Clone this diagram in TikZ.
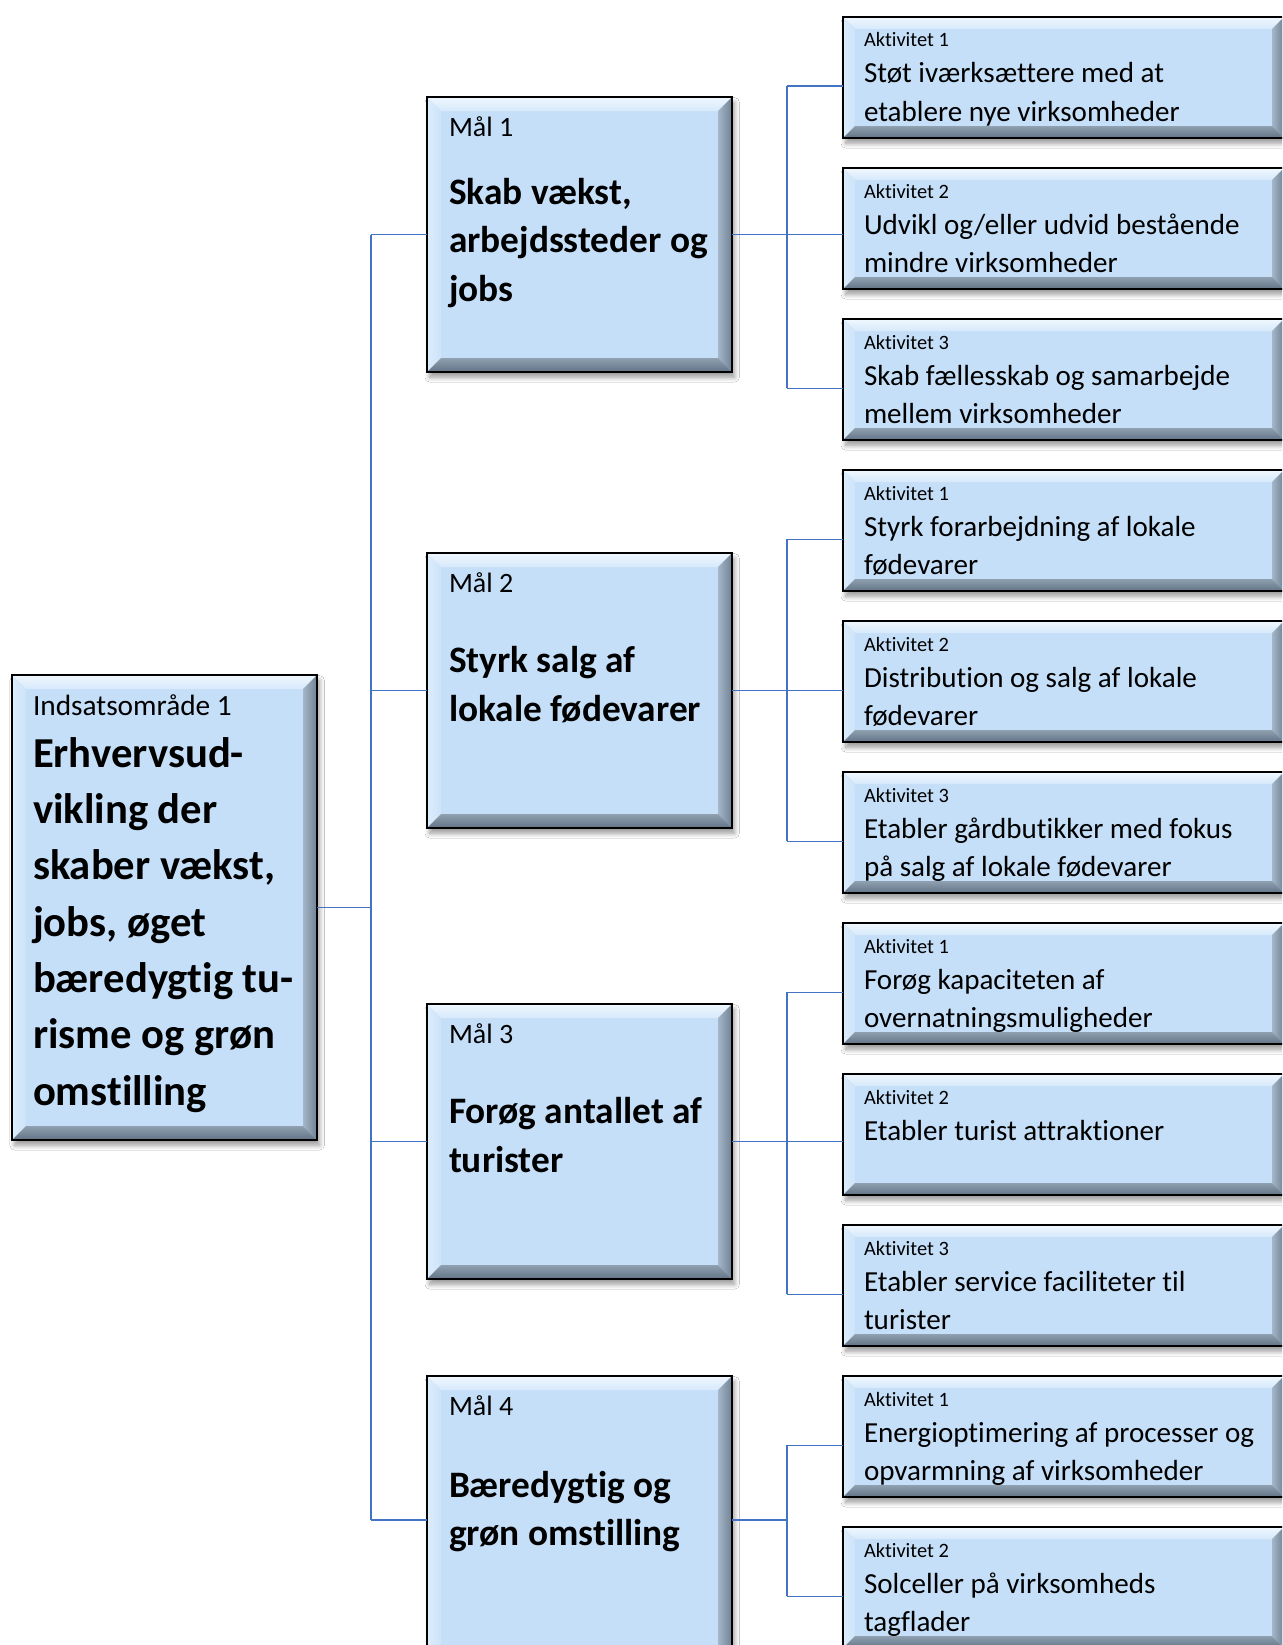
\documentclass[tikz,border=0pt]{standalone}
\usepackage{fontspec}
\setmainfont{Carlito}[Ligatures=NoCommon]
\usetikzlibrary{fit,shadows.blur}
\definecolor{boxfill}{HTML}{C5DFF8}
\definecolor{connblue}{HTML}{4472C4}
\definecolor{bvTa}{HTML}{F0F7FE}
\definecolor{bvTb}{HTML}{D6E9FB}
\definecolor{bvLa}{HTML}{DDEDFB}
\definecolor{bvLb}{HTML}{CCE3F9}
\definecolor{bvRa}{HTML}{A4B6C7}
\definecolor{bvRb}{HTML}{6F8295}
\definecolor{bvBa}{HTML}{8FA0B0}
\definecolor{bvBb}{HTML}{617386}
\newcommand\bevelpic[1]{%
  \coordinate (bNW) at (path picture bounding box.north west);
  \coordinate (bNE) at (path picture bounding box.north east);
  \coordinate (bSW) at (path picture bounding box.south west);
  \coordinate (bSE) at (path picture bounding box.south east);
  \coordinate (iNW) at ([shift={(#1,-#1)}]bNW);
  \coordinate (iNE) at ([shift={(-#1,-#1)}]bNE);
  \coordinate (iSW) at ([shift={(#1,#1)}]bSW);
  \coordinate (iSE) at ([shift={(-#1,#1)}]bSE);
  \shade[top color=bvTa, bottom color=bvTb] (bNW) -- (bNE) -- (iNE) -- (iNW) -- cycle;
  \shade[left color=bvLa, right color=bvLb] (bNW) -- (iNW) -- (iSW) -- (bSW) -- cycle;
  \shade[left color=bvRa, right color=bvRb] (iNE) -- (bNE) -- (bSE) -- (iSE) -- cycle;
  \shade[top color=bvBa, bottom color=bvBb] (iSW) -- (iSE) -- (bSE) -- (bSW) -- cycle;
}
\tikzset{
  conn/.style={draw=connblue, line width=0.8pt},
  bx/.style={draw=black, line width=1.3pt, fill=boxfill, inner sep=0pt, outer sep=0pt,
    blur shadow={shadow xshift=2pt, shadow yshift=-4pt, shadow blur radius=3.5pt,
      shadow blur steps=8, shadow opacity=40},
    path picture={\bevelpic{#1}}},
  bx/.default=10.5pt,
  lab/.style={anchor=base west, inner sep=0pt, outer sep=0pt},
  smalllab/.style={lab, font=\fontsize{15.3}{18}\selectfont},
  acttxt/.style={lab, font=\fontsize{21.8}{26}\selectfont},
  mallab/.style={lab, font=\fontsize{21}{25}\selectfont},
  malbold/.style={lab, font=\fontsize{28}{34}\selectfont\bfseries},
  leftlab/.style={lab, font=\fontsize{22}{26}\selectfont},
  leftbold/.style={lab, font=\fontsize{32}{38}\selectfont\bfseries},
}
% #1 name, #2 top y (px), #3 label, #4 line 1, #5 line 2
\newcommand\actbox[5]{%
  \node[bx=9pt, fit={(843,#2) (1284,#2+121)}] (#1) {};
  \node[smalllab] (#1l) at (864,#2+30) {#3};
  \node[acttxt] (#1a) at (864,#2+66) {#4};
  \node[acttxt] (#1b) at (864,#2+104) {#5};
  \coordinate (#1c) at ([yshift=-6.4pt]#1.west);
}
\begin{document}
\begin{tikzpicture}[x=0.75pt,y=-0.75pt]
\useasboundingbox (0,0) rectangle (1282,1645);
\clip (0,0) rectangle (1282,1645);
\fill[white] (0,0) rectangle (1282,1645);

% left box
\node[bx, fit={(12,675) (317,1140)}] (L) {};
\node[leftlab] (Lt0) at (33,715) {Indsatsområde 1};
\node[leftbold] (Lt1) at (33,767) {Erhvervsud-};
\node[leftbold] (Lt2) at (33,823) {vikling der};
\node[leftbold] (Lt3) at (33,879) {skaber vækst,};
\node[leftbold] (Lt4) at (33,936) {jobs, øget};
\node[leftbold] (Lt5) at (33,992) {bæredygtig tu-};
\node[leftbold] (Lt6) at (33,1048) {risme og grøn};
\node[leftbold] (Lt7) at (33,1105) {omstilling};

% goal boxes
\node[bx, fit={(427,97) (732,372)}] (m1) {};
\node[mallab] (m1l) at (449,137) {Mål 1};
\node[malbold] (m1a) at (449,204) {Skab vækst,};
\node[malbold] (m1b) at (449,252) {arbejdssteder og};
\node[malbold] (m1c) at (449,301) {jobs};

\node[bx, fit={(427,553) (732,828)}] (m2) {};
\node[mallab] (m2l) at (449,592) {Mål 2};
\node[malbold] (m2a) at (449,672) {Styrk salg af};
\node[malbold] (m2b) at (449,721) {lokale fødevarer};

\node[bx, fit={(427,1004) (732,1279)}] (m3) {};
\node[mallab] (m3l) at (449,1043) {Mål 3};
\node[malbold] (m3a) at (449,1123) {Forøg antallet af};
\node[malbold] (m3b) at (449,1172) {turister};

\node[bx, fit={(427,1376) (732,1664)}] (m4) {};
\node[mallab] (m4l) at (449,1415) {Mål 4};
\node[malbold] (m4a) at (449,1497) {Bæredygtig og};
\node[malbold] (m4b) at (449,1545) {grøn omstilling};

% activity boxes
\actbox{a11}{17}{Aktivitet 1}{Støt iværksættere med at}{etablere nye virksomheder}
\actbox{a12}{168}{Aktivitet 2}{Udvikl og/eller udvid bestående}{mindre virksomheder}
\actbox{a13}{319}{Aktivitet 3}{Skab fællesskab og samarbejde}{mellem virksomheder}
\actbox{a21}{470}{Aktivitet 1}{Styrk forarbejdning af lokale}{fødevarer}
\actbox{a22}{621}{Aktivitet 2}{Distribution og salg af lokale}{fødevarer}
\actbox{a23}{772}{Aktivitet 3}{Etabler gårdbutikker med fokus}{på salg af lokale fødevarer}
\actbox{a31}{923}{Aktivitet 1}{Forøg kapaciteten af}{overnatningsmuligheder}
\actbox{a32}{1074}{Aktivitet 2}{Etabler turist attraktioner}{}
\actbox{a33}{1225}{Aktivitet 3}{Etabler service faciliteter til}{turister}
\actbox{a41}{1376}{Aktivitet 1}{Energioptimering af processer og}{opvarmning af virksomheder}
\actbox{a42}{1527}{Aktivitet 2}{Solceller på virksomheds}{tagflader}

% connectors
\coordinate (tx) at (371,0);
\coordinate (rx) at (787,0);
\draw[conn] (L.east) -- (L.east -| tx);
\draw[conn] (m1.west -| tx) -- (m4.west -| tx);
\foreach \mm in {m1,m2,m3,m4} {\draw[conn] (\mm.west -| tx) -- (\mm.west);}
\foreach \gg/\fa/\la in {1/a11/a13, 2/a21/a23, 3/a31/a33} {
  \draw[conn] (m\gg.east) -- (m\gg.east -| \fa.west);
  \draw[conn] (rx |- \fa c) -- (rx |- \la c);
  \draw[conn] (rx |- \fa c) -- (\fa c);
  \draw[conn] (rx |- \la c) -- (\la c);
}
\draw[conn] (m4.east) -- (m4.east -| rx);
\draw[conn] (rx |- a41c) -- (rx |- a42c);
\draw[conn] (rx |- a41c) -- (a41c);
\draw[conn] (rx |- a42c) -- (a42c);
\end{tikzpicture}
\end{document}
